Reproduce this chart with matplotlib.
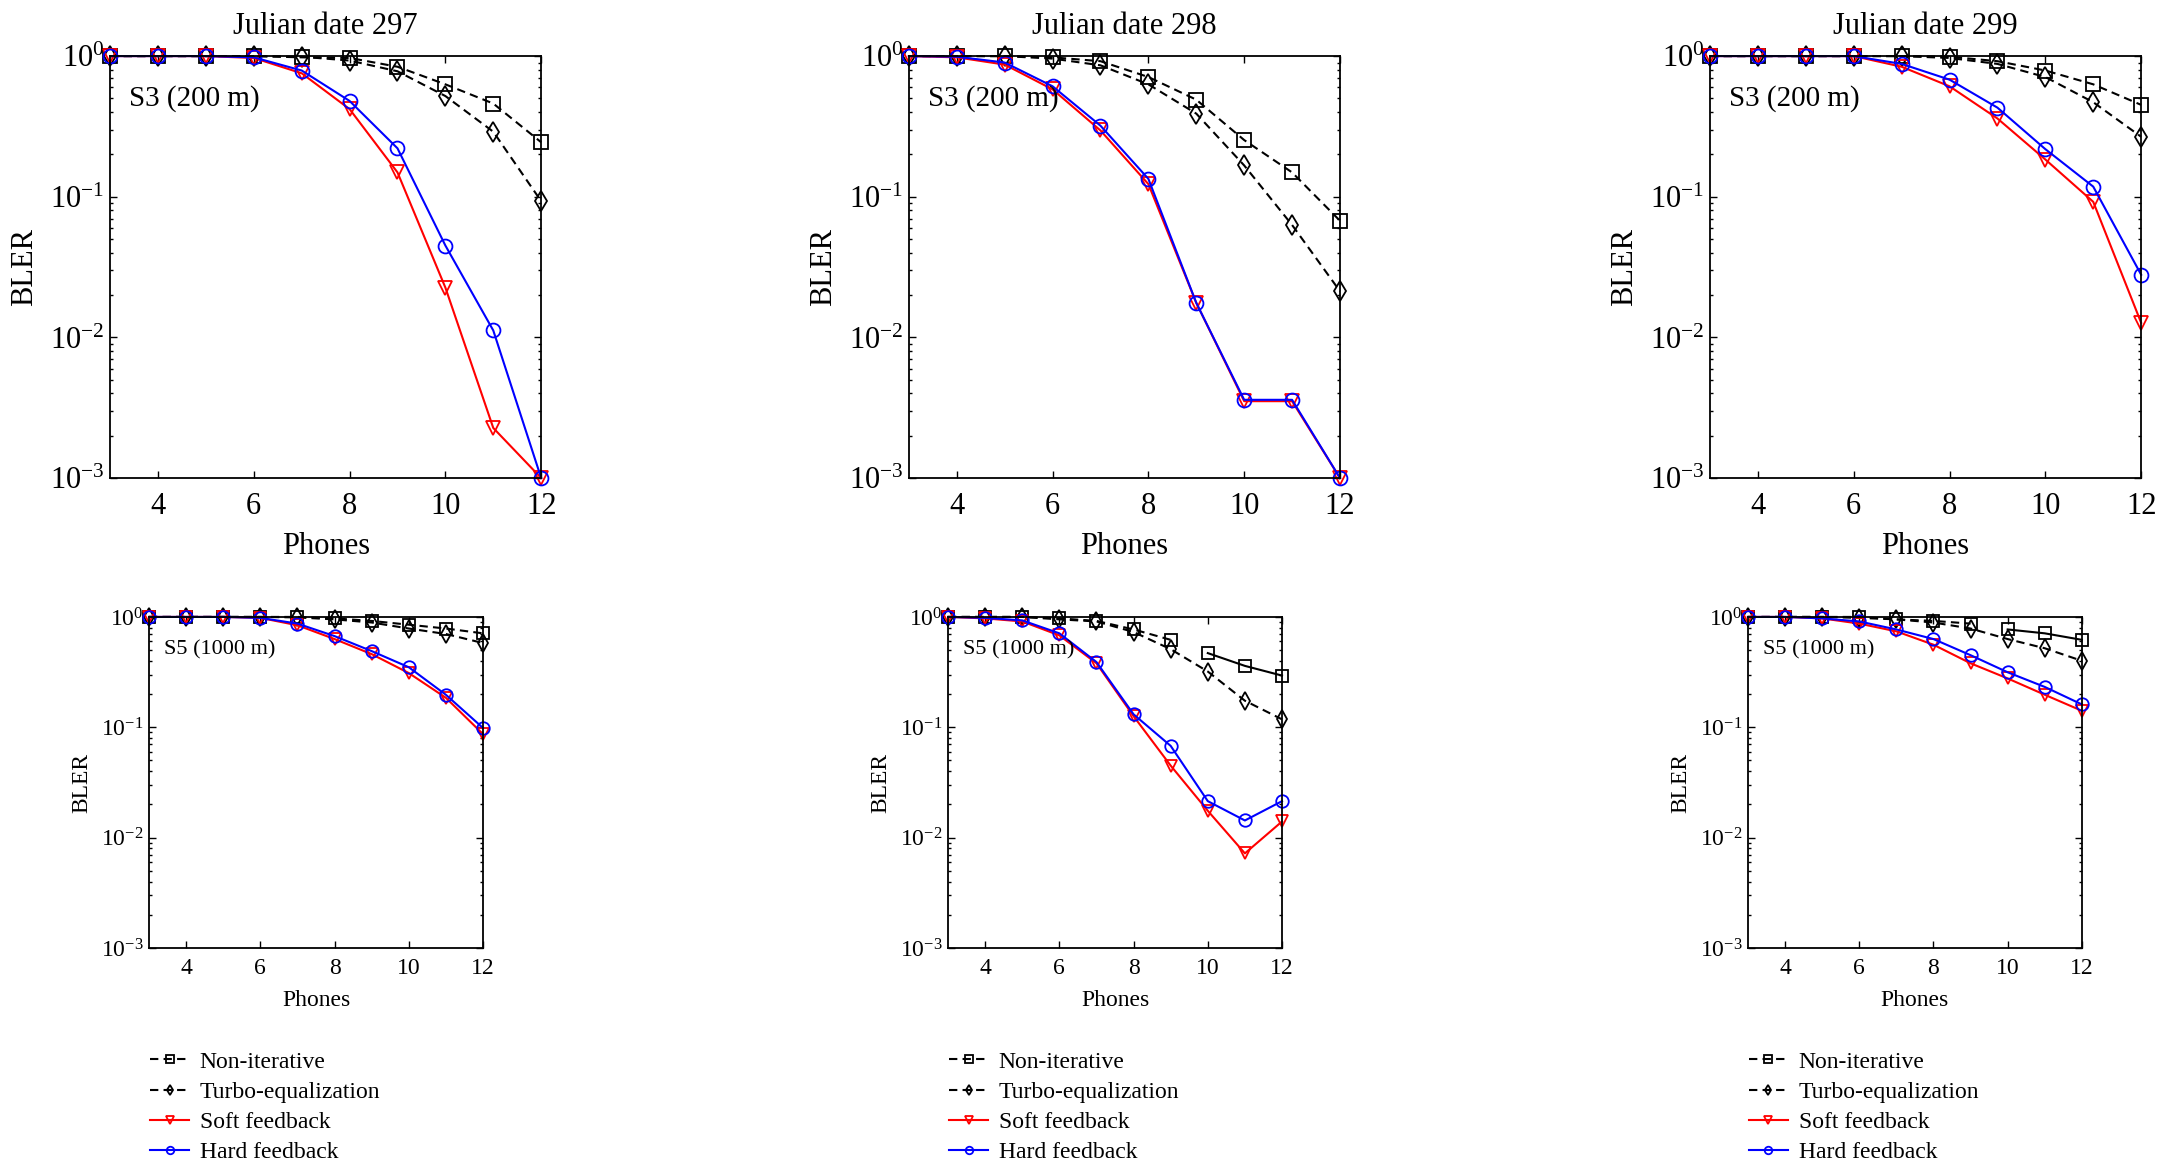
import matplotlib
matplotlib.use('Agg')
import matplotlib.pyplot as plt
from matplotlib.ticker import LogLocator, NullFormatter, FixedLocator

plt.rcParams['font.family'] = ['Liberation Serif', 'DejaVu Serif']
plt.rcParams['mathtext.fontset'] = 'custom'
plt.rcParams['mathtext.rm'] = 'Liberation Serif'
plt.rcParams['mathtext.it'] = 'Liberation Serif:italic'

# number of phones on the x axis
phones = [3, 4, 5, 6, 7, 8, 9, 10, 11, 12]
days = ['297', '298', '299']
labels = ['Non-iterative', 'Turbo-equalization', 'Soft feedback', 'Hard feedback']

# S3 (200 m) BLER per julian date
s3_297_noniter = [1.0, 1.0, 1.0, 1.0, 0.98, 0.97, 0.84, 0.63, 0.46, 0.244]
s3_297_turbo = [1.0, 1.0, 1.0, 1.0, 0.99, 0.93, 0.78, 0.52, 0.29, 0.093]
s3_297_soft = [1.0, 1.0, 1.0, 0.97, 0.755, 0.42, 0.149, 0.0226, 0.00227, 0.001]
s3_297_hard = [1.0, 1.0, 1.0, 0.98, 0.79, 0.48, 0.221, 0.045, 0.0112, 0.001]

s3_298_noniter = [1.0, 1.0, 1.0, 0.98, 0.92, 0.71, 0.49, 0.253, 0.149, 0.0675]
s3_298_turbo = [1.0, 1.0, 1.0, 0.96, 0.86, 0.63, 0.39, 0.167, 0.063, 0.0213]
s3_298_soft = [1.0, 0.98, 0.87, 0.58, 0.296, 0.123, 0.0176, 0.00352, 0.00352, 0.001]
s3_298_hard = [1.0, 0.99, 0.90, 0.61, 0.32, 0.134, 0.0176, 0.0036, 0.0036, 0.001]

s3_299_noniter = [1.0, 1.0, 1.0, 1.0, 1.0, 0.99, 0.92, 0.79, 0.63, 0.45]
s3_299_turbo = [1.0, 1.0, 1.0, 1.0, 1.0, 0.97, 0.88, 0.71, 0.47, 0.267]
s3_299_soft = [1.0, 1.0, 1.0, 1.0, 0.84, 0.61, 0.36, 0.184, 0.092, 0.0127]
s3_299_hard = [1.0, 1.0, 1.0, 1.0, 0.88, 0.68, 0.43, 0.218, 0.118, 0.0279]

# S5 (1000 m) BLER per julian date
s5_297_noniter = [1.0, 1.0, 1.0, 1.0, 1.0, 0.97, 0.92, 0.85, 0.785, 0.71]
s5_297_turbo = [1.0, 1.0, 1.0, 1.0, 0.99, 0.95, 0.89, 0.785, 0.70, 0.58]
s5_297_soft = [1.0, 1.0, 1.0, 0.98, 0.84, 0.63, 0.46, 0.31, 0.185, 0.0867]
s5_297_hard = [1.0, 1.0, 1.0, 0.98, 0.87, 0.67, 0.49, 0.35, 0.197, 0.0986]

s5_298_noniter = [1.0, 1.0, 1.0, 0.97, 0.92, 0.77, 0.62, 0.47, 0.36, 0.294]
s5_298_turbo = [1.0, 1.0, 1.0, 0.95, 0.91, 0.73, 0.51, 0.32, 0.174, 0.118]
s5_298_soft = [1.0, 0.97, 0.91, 0.68, 0.38, 0.126, 0.0449, 0.0175, 0.0072, 0.014]
s5_298_hard = [1.0, 0.98, 0.93, 0.71, 0.39, 0.131, 0.0678, 0.0214, 0.0143, 0.0214]

s5_299_noniter = [1.0, 1.0, 1.0, 1.0, 0.95, 0.92, 0.87, 0.77, 0.71, 0.62]
s5_299_turbo = [1.0, 1.0, 1.0, 0.98, 0.95, 0.89, 0.785, 0.63, 0.52, 0.40]
s5_299_soft = [1.0, 1.0, 0.97, 0.87, 0.74, 0.56, 0.38, 0.277, 0.197, 0.141]
s5_299_hard = [1.0, 1.0, 0.97, 0.91, 0.77, 0.63, 0.45, 0.315, 0.232, 0.161]

top_series = [
    [s3_297_noniter, s3_297_turbo, s3_297_soft, s3_297_hard],
    [s3_298_noniter, s3_298_turbo, s3_298_soft, s3_298_hard],
    [s3_299_noniter, s3_299_turbo, s3_299_soft, s3_299_hard],
]
bottom_series = [
    [s5_297_noniter, s5_297_turbo, s5_297_soft, s5_297_hard],
    [s5_298_noniter, s5_298_turbo, s5_298_soft, s5_298_hard],
    [s5_299_noniter, s5_299_turbo, s5_299_soft, s5_299_hard],
]
# in the S5 panels of day 298/299 the non-iterative curve breaks after
# 9 phones and continues solid from 10 phones (as in the original figure)
bottom_break = [None, 7, 7]

styles = [
    dict(color='black', marker='s', linestyle='--', dashes=(4, 2.5)),
    dict(color='black', marker='d', linestyle='--', dashes=(4, 2.5)),
    dict(color='red', marker='v', linestyle='-'),
    dict(color='blue', marker='o', linestyle='-'),
]


def draw_panel(ax, series, fs, ms, note, tickpad, xlabelpad, ylabelpad, brk=None):
    lines = []
    for k, (vals, st, lab) in enumerate(zip(series, styles, labels)):
        kw = dict(markerfacecolor='none', markersize=ms, linewidth=1.5,
                  markeredgewidth=1.3, clip_on=False)
        if k == 0 and brk is not None:
            ln, = ax.plot(phones[:brk], vals[:brk], label=lab, **kw, **st)
            ax.plot(phones[brk:], vals[brk:], color='black', marker='s',
                    linestyle='-', **kw)
        else:
            ln, = ax.plot(phones, vals, label=lab, **kw, **st)
        lines.append(ln)
    ax.set_yscale('log')
    ax.set_ylim(1e-3, 1)
    ax.set_xlim(3, 12)
    ax.xaxis.set_major_locator(FixedLocator([4, 6, 8, 10, 12]))
    ax.yaxis.set_major_locator(LogLocator(base=10))
    ax.yaxis.set_minor_locator(LogLocator(base=10, subs=range(2, 10)))
    ax.yaxis.set_minor_formatter(NullFormatter())
    ax.tick_params(which='both', direction='in', top=True, right=True,
                   labelsize=fs, width=1.0)
    ax.tick_params(which='major', length=5)
    ax.tick_params(which='minor', length=2.5)
    ax.tick_params(axis='x', pad=tickpad)
    ax.tick_params(axis='y', pad=4)
    for sp in ax.spines.values():
        sp.set_linewidth(1.3)
    ax.set_xlabel('Phones', fontsize=fs, labelpad=xlabelpad)
    ax.set_ylabel('BLER', fontsize=fs, labelpad=ylabelpad)
    ax.text(0.045, 0.90, note, transform=ax.transAxes, fontsize=fs - 1,
            va='center', ha='left')
    return lines


fig = plt.figure(figsize=(21.63, 11.64), dpi=100)

top_lefts = [0.0509, 0.4202, 0.7906]
bottom_lefts = [0.0689, 0.4383, 0.8081]

for i in range(3):
    ax = fig.add_axes([top_lefts[i], 0.5893, 0.1993, 0.3625])
    draw_panel(ax, top_series[i], 22, 10, 'S3 (200 m)', 10, 8, 8)
    ax.set_title('Julian date ' + days[i], fontsize=22, pad=16)

    ax2 = fig.add_axes([bottom_lefts[i], 0.1856, 0.1544, 0.2844])
    lines = draw_panel(ax2, bottom_series[i], 17, 9, 'S5 (1000 m)', 7, 8, 6,
                       brk=bottom_break[i])
    fig.legend(handles=lines, loc='upper left',
               bbox_to_anchor=(bottom_lefts[i] + 0.0005, 0.097),
               frameon=False, fontsize=17, borderpad=0, borderaxespad=0,
               handlelength=1.65, handletextpad=0.45, labelspacing=0.37,
               markerscale=0.6)

fig.savefig('out.png', dpi=100)
